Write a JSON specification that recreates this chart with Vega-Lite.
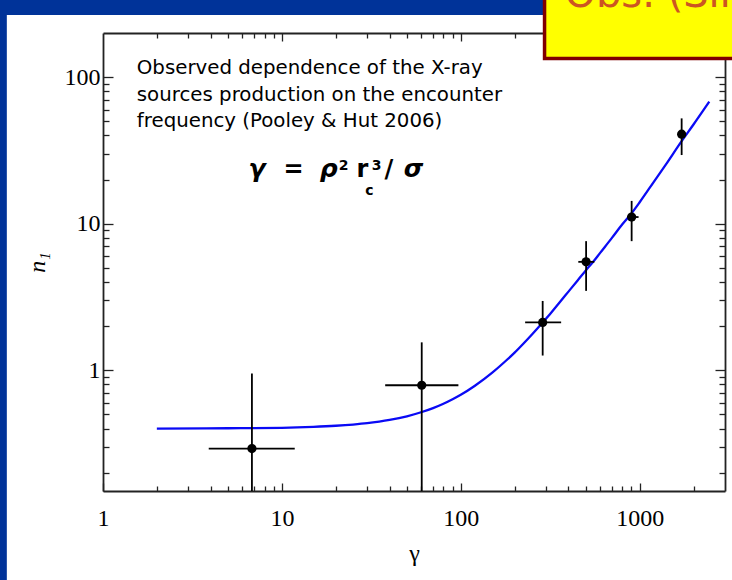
{
  "$schema": "https://vega.github.io/schema/vega-lite/v6.json",
  "width": 622,
  "height": 458,
  "autosize": {"type": "none"},
  "padding": {"left": 103, "top": 33, "right": 7, "bottom": 89},
  "background": "white",
  "config": {
    "view": {"stroke": null},
    "axis": {
      "domainColor": "#222222",
      "domainWidth": 1.8,
      "tickColor": "#222222",
      "tickWidth": 1.3,
      "grid": false,
      "labelFont": "Liberation Serif",
      "labelFontSize": 24,
      "labelColor": "black",
      "titleFont": "Liberation Serif",
      "titleFontSize": 24,
      "titleFontWeight": "normal",
      "titleColor": "black"
    }
  },
  "datasets": {
    "curve": [
      {"g": 2, "n": 0.400},
      {"g": 5, "n": 0.402},
      {"g": 10, "n": 0.405},
      {"g": 15, "n": 0.411},
      {"g": 20, "n": 0.418},
      {"g": 25, "n": 0.426},
      {"g": 30, "n": 0.435},
      {"g": 35, "n": 0.446},
      {"g": 40, "n": 0.458},
      {"g": 50, "n": 0.485},
      {"g": 60, "n": 0.517},
      {"g": 70, "n": 0.552},
      {"g": 80, "n": 0.591},
      {"g": 90, "n": 0.634},
      {"g": 100, "n": 0.68},
      {"g": 120, "n": 0.784},
      {"g": 150, "n": 0.963},
      {"g": 175, "n": 1.134},
      {"g": 200, "n": 1.32},
      {"g": 225, "n": 1.53},
      {"g": 250, "n": 1.756},
      {"g": 287, "n": 2.12},
      {"g": 320, "n": 2.47},
      {"g": 350, "n": 2.82},
      {"g": 400, "n": 3.44},
      {"g": 450, "n": 4.1},
      {"g": 500, "n": 4.8},
      {"g": 550, "n": 5.5},
      {"g": 600, "n": 6.3},
      {"g": 700, "n": 8.0},
      {"g": 800, "n": 9.9},
      {"g": 902, "n": 11.8},
      {"g": 1000, "n": 14.0},
      {"g": 1200, "n": 19.3},
      {"g": 1400, "n": 25.3},
      {"g": 1717, "n": 36.6},
      {"g": 2000, "n": 47.5},
      {"g": 2450, "n": 68}
    ],
    "obs": [
      {"g": 6.8, "n": 0.292, "gLo": 3.9, "gHi": 11.8, "nLo": 0.1, "nHi": 0.95},
      {"g": 60.5, "n": 0.79, "gLo": 37.8, "gHi": 97, "nLo": 0.1, "nHi": 1.55},
      {"g": 287, "n": 2.12, "gLo": 229, "gHi": 364, "nLo": 1.26, "nHi": 2.97},
      {"g": 502, "n": 5.49, "gLo": 454, "gHi": 558, "nLo": 3.48, "nHi": 7.6},
      {"g": 902, "n": 11.1, "gLo": 850, "gHi": 986, "nLo": 7.6, "nHi": 14.3},
      {"g": 1717, "n": 40.8, "gLo": 1690, "gHi": 1745, "nLo": 29.4, "nHi": 52.3}
    ]
  },
  "resolve": {"axis": {"x": "independent", "y": "independent"}},
  "layer": [
    {
      "data": {"name": "curve"},
      "mark": {"type": "line", "color": "#0A0AF5", "strokeWidth": 2.3, "clip": true, "interpolate": "monotone"},
      "encoding": {
        "x": {
          "field": "g", "type": "quantitative",
          "scale": {"type": "log", "domain": [1, 3000], "nice": false},
          "axis": {
            "orient": "bottom", "title": "γ",
            "values": [1,2,3,4,5,6,7,8,9,10,20,30,40,50,60,70,80,90,100,200,300,400,500,600,700,800,900,1000,2000],
            "labelExpr": "indexof([1,10,100,1000], datum.value) >= 0 ? '' + datum.value : ''",
            "tickSize": {"condition": {"test": "indexof([1,10,100,1000], datum.value) >= 0", "value": -8}, "value": -5},
            "labelPadding": 23,
            "titlePadding": 8,
            "labelFlush": false,
            "labelOverlap": false
          }
        },
        "y": {
          "field": "n", "type": "quantitative",
          "scale": {"type": "log", "domain": [0.15, 200], "nice": false},
          "axis": {
            "orient": "left", "title": "n₁", "titleFontStyle": "italic",
            "values": [0.2,0.3,0.4,0.5,0.6,0.7,0.8,0.9,1,2,3,4,5,6,7,8,9,10,20,30,40,50,60,70,80,90,100],
            "labelExpr": "indexof([1,10,100], datum.value) >= 0 ? '' + datum.value : ''",
            "tickSize": {"condition": {"test": "indexof([1,10,100], datum.value) >= 0", "value": -10}, "value": -6},
            "labelPadding": 13,
            "titlePadding": 15,
            "labelFlush": false,
            "labelOverlap": false
          }
        }
      }
    },
    {
      "data": {"name": "obs"},
      "mark": {"type": "rule", "color": "black", "strokeWidth": 1.8, "clip": true},
      "encoding": {
        "x": {"field": "gLo", "type": "quantitative", "axis": null},
        "x2": {"field": "gHi"},
        "y": {"field": "n", "type": "quantitative", "axis": null}
      }
    },
    {
      "data": {"name": "obs"},
      "mark": {"type": "rule", "color": "black", "strokeWidth": 1.8, "clip": true},
      "encoding": {
        "x": {"field": "g", "type": "quantitative", "axis": null},
        "y": {"field": "nLo", "type": "quantitative", "axis": null},
        "y2": {"field": "nHi"}
      }
    },
    {
      "data": {"name": "obs"},
      "mark": {"type": "point", "filled": true, "color": "black", "size": 85, "opacity": 1},
      "encoding": {
        "x": {
          "field": "g", "type": "quantitative",
          "axis": {
            "orient": "top", "title": null, "labels": false,
            "values": [2,3,4,5,6,7,8,9,10,20,30,40,50,60,70,80,90,100,200],
            "tickSize": {"condition": {"test": "indexof([1,10,100,1000], datum.value) >= 0", "value": -8}, "value": -5}
          }
        },
        "y": {
          "field": "n", "type": "quantitative",
          "axis": {
            "orient": "right", "title": null, "labels": false,
            "values": [0.2,0.3,0.4,0.5,0.6,0.7,0.8,0.9,1,2,3,4,5,6,7,8,9,10,20,30,40,50,60,70,80,90,100],
            "tickSize": {"condition": {"test": "indexof([1,10,100], datum.value) >= 0", "value": -10}, "value": -6}
          }
        }
      }
    },
    {
      "data": {"values": [{}]},
      "mark": {"type": "rect", "color": "#003399", "clip": false},
      "encoding": {
        "x": {"datum": 0.0001, "type": "quantitative", "axis": null},
        "x2": {"datum": 0.29},
        "y": {"datum": 0.0001, "type": "quantitative", "axis": null},
        "y2": {"datum": 1000000}
      }
    },
    {
      "data": {"values": [{}]},
      "mark": {"type": "rect", "color": "#003399", "clip": false},
      "encoding": {
        "x": {"datum": 0.0001, "type": "quantitative", "axis": null},
        "x2": {"datum": 10000000},
        "y": {"datum": 265, "type": "quantitative", "axis": null},
        "y2": {"datum": 1000000}
      }
    },
    {
      "data": {"values": [{}]},
      "mark": {"type": "rect", "fill": "#FFFF00", "stroke": "#800000", "strokeWidth": 3.5, "clip": false},
      "encoding": {
        "x": {"datum": 294, "type": "quantitative", "axis": null},
        "x2": {"datum": 1000000},
        "y": {"datum": 134, "type": "quantitative", "axis": null},
        "y2": {"datum": 1000000}
      }
    },
    {
      "data": {"values": [{"t": "Obs. (Sims)"}]},
      "mark": {"type": "text", "align": "left", "baseline": "alphabetic", "font": "DejaVu Sans", "fontSize": 40, "color": "#CC5522", "clip": false},
      "encoding": {
        "x": {"datum": 380, "type": "quantitative", "axis": null},
        "y": {"datum": 300, "type": "quantitative", "axis": null},
        "text": {"field": "t"}
      }
    },
    {
      "data": {"values": [{"t": ["Observed dependence of the X-ray", "sources production on the encounter", "frequency (Pooley & Hut 2006)"]}]},
      "mark": {"type": "text", "align": "left", "baseline": "alphabetic", "font": "DejaVu Sans", "fontSize": 19.8, "lineHeight": 26.5, "color": "black"},
      "encoding": {
        "x": {"datum": 1.545, "type": "quantitative", "axis": null},
        "y": {"datum": 104.8, "type": "quantitative", "axis": null},
        "text": {"field": "t"}
      }
    },
    {
      "data": {"values": [{"t": "γ"}]},
      "mark": {"type": "text", "align": "left", "baseline": "alphabetic", "font": "DejaVu Sans", "fontSize": 25, "fontWeight": "bold", "fontStyle": "italic", "color": "black"},
      "encoding": {
        "x": {"datum": 6.5, "type": "quantitative", "axis": null},
        "y": {"datum": 20.77, "type": "quantitative", "axis": null},
        "text": {"field": "t"}
      }
    },
    {
      "data": {"values": [{"t": "="}]},
      "mark": {"type": "text", "align": "left", "baseline": "alphabetic", "font": "DejaVu Sans", "fontSize": 24, "fontWeight": "bold", "color": "black"},
      "encoding": {
        "x": {"datum": 10.2, "type": "quantitative", "axis": null},
        "y": {"datum": 20.77, "type": "quantitative", "axis": null},
        "text": {"field": "t"}
      }
    },
    {
      "data": {"values": [{"t": "ρ"}]},
      "mark": {"type": "text", "align": "left", "baseline": "alphabetic", "font": "DejaVu Sans", "fontSize": 25, "fontWeight": "bold", "fontStyle": "italic", "color": "black"},
      "encoding": {
        "x": {"datum": 16.3, "type": "quantitative", "axis": null},
        "y": {"datum": 20.77, "type": "quantitative", "axis": null},
        "text": {"field": "t"}
      }
    },
    {
      "data": {"values": [{"t": "2"}]},
      "mark": {"type": "text", "align": "left", "baseline": "alphabetic", "font": "DejaVu Sans", "fontSize": 14, "fontWeight": "bold", "color": "black"},
      "encoding": {
        "x": {"datum": 20.8, "type": "quantitative", "axis": null},
        "y": {"datum": 23.18, "type": "quantitative", "axis": null},
        "text": {"field": "t"}
      }
    },
    {
      "data": {"values": [{"t": "r"}]},
      "mark": {"type": "text", "align": "left", "baseline": "alphabetic", "font": "DejaVu Sans", "fontSize": 24, "fontWeight": "bold", "color": "black"},
      "encoding": {
        "x": {"datum": 26.14, "type": "quantitative", "axis": null},
        "y": {"datum": 20.77, "type": "quantitative", "axis": null},
        "text": {"field": "t"}
      }
    },
    {
      "data": {"values": [{"t": "c"}]},
      "mark": {"type": "text", "align": "left", "baseline": "alphabetic", "font": "DejaVu Sans", "fontSize": 14, "fontWeight": "bold", "color": "black"},
      "encoding": {
        "x": {"datum": 29.2, "type": "quantitative", "axis": null},
        "y": {"datum": 15.65, "type": "quantitative", "axis": null},
        "text": {"field": "t"}
      }
    },
    {
      "data": {"values": [{"t": "3"}]},
      "mark": {"type": "text", "align": "left", "baseline": "alphabetic", "font": "DejaVu Sans", "fontSize": 14, "fontWeight": "bold", "color": "black"},
      "encoding": {
        "x": {"datum": 31.8, "type": "quantitative", "axis": null},
        "y": {"datum": 23.18, "type": "quantitative", "axis": null},
        "text": {"field": "t"}
      }
    },
    {
      "data": {"values": [{"t": "/"}]},
      "mark": {"type": "text", "align": "left", "baseline": "alphabetic", "font": "DejaVu Sans", "fontSize": 24, "fontWeight": "bold", "color": "black"},
      "encoding": {
        "x": {"datum": 37.5, "type": "quantitative", "axis": null},
        "y": {"datum": 20.77, "type": "quantitative", "axis": null},
        "text": {"field": "t"}
      }
    },
    {
      "data": {"values": [{"t": "σ"}]},
      "mark": {"type": "text", "align": "left", "baseline": "alphabetic", "font": "DejaVu Sans", "fontSize": 25, "fontWeight": "bold", "fontStyle": "italic", "color": "black"},
      "encoding": {
        "x": {"datum": 48.0, "type": "quantitative", "axis": null},
        "y": {"datum": 20.77, "type": "quantitative", "axis": null},
        "text": {"field": "t"}
      }
    }
  ]
}
